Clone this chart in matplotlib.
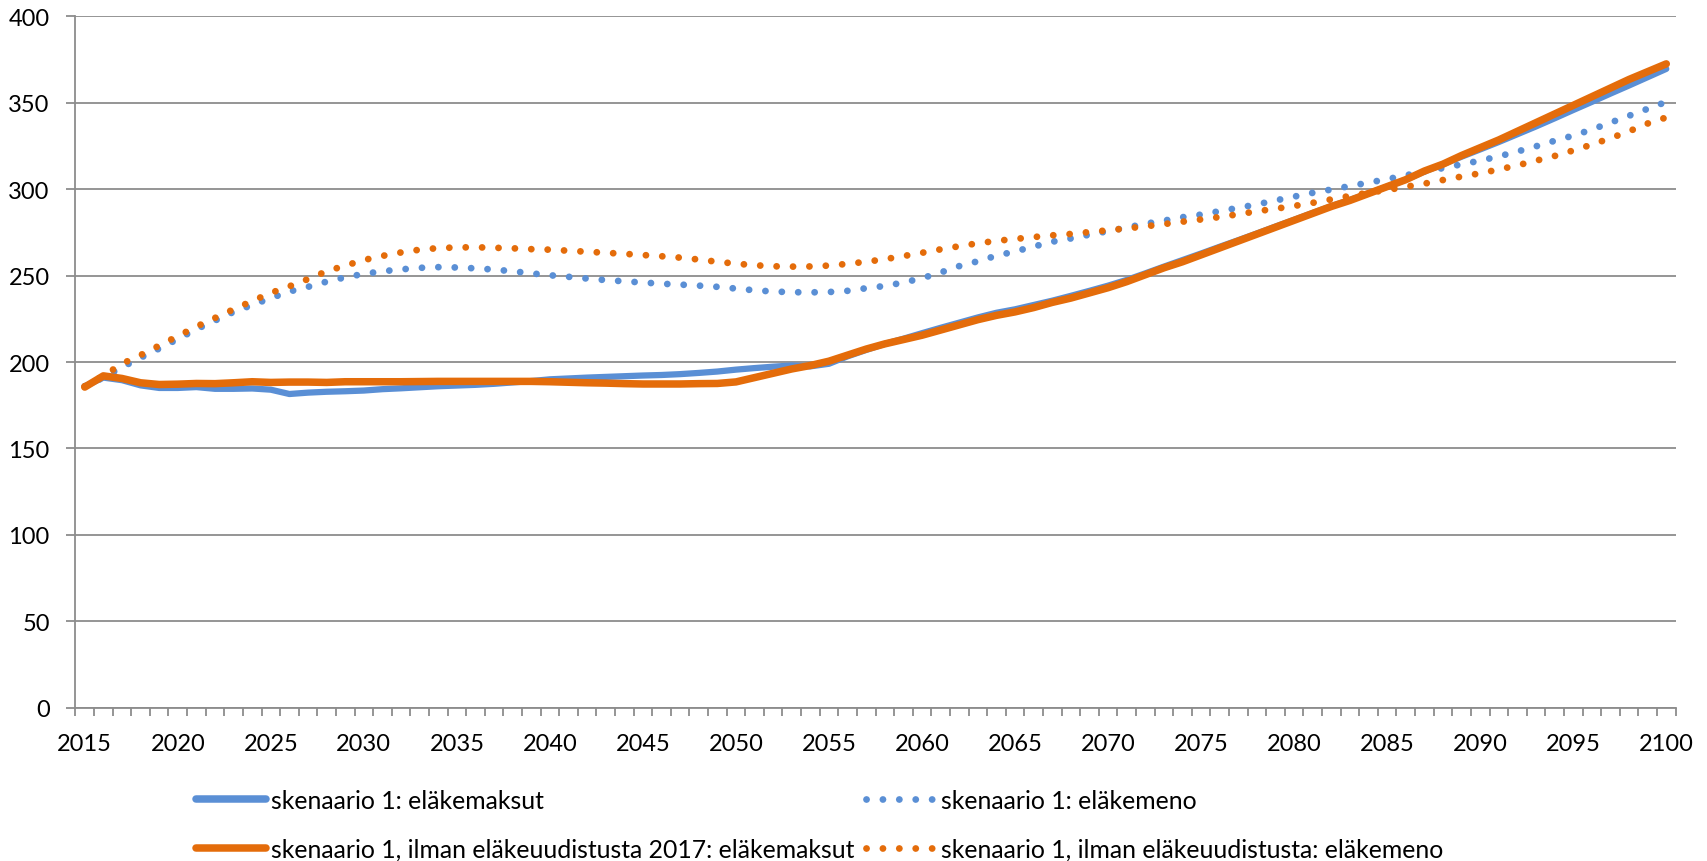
import numpy as np
import matplotlib
matplotlib.use("Agg")
import matplotlib.pyplot as plt
from matplotlib.lines import Line2D

plt.rcParams['font.family'] = ['Lato', 'DejaVu Sans']

# years 2015..2100
years = list(range(2015, 2101))

# skenaario 1: eläkemaksut
blue_maksut = [186, 191, 189.5, 186.5, 185, 185, 185.5, 184.5, 184.5, 184.7,
               184, 181.5, 182.3, 182.8, 183.1, 183.5, 184.3, 184.8, 185.4, 186,
               186.4, 186.8, 187.4, 188.2, 189, 190, 190.5, 191, 191.4, 191.8,
               192.2, 192.5, 193, 193.7, 194.5, 195.6, 196.5, 197.3, 198, 197.5,
               199, 203.3, 207, 210.5, 213.5, 216.7, 219.8, 222.8, 225.8, 228.5,
               230.5, 233, 235.5, 238.3, 241.2, 244.2, 247.5, 251.3, 255.2, 259,
               262.8, 266.7, 270.5, 274.4, 278.4, 282.3, 286.3, 290.2, 293.8, 297.6,
               301.5, 305.5, 310.2, 314.4, 318.8, 323, 327.3, 331.8, 336.3, 341,
               345.8, 350.5, 355.3, 360, 364.8, 369.6]

# skenaario 1: eläkemeno
blue_meno = [186, 191, 197, 202.5, 207.8, 213.3, 219, 224, 229, 233,
             237, 240.8, 243.5, 246.5, 249, 251, 252.5, 253.6, 254.5, 254.9,
             254.7, 254.2, 253.5, 252.5, 251.3, 250.2, 249.3, 248.3, 247.4, 246.7,
             246, 245.3, 244.8, 244.2, 243.5, 242.5, 241.5, 240.8, 240.4, 240.3,
             240.5, 241.2, 242.7, 244, 246, 248.5, 251.8, 255.5, 258.3, 261.5,
             264, 266.8, 269.6, 271.5, 273.7, 275.7, 277.8, 280, 281.8, 283.8,
             285.3, 287.3, 289.2, 291.2, 293.5, 295.7, 297.9, 299.8, 301.8, 303.8,
             305.8, 308, 310.3, 312.2, 314.4, 316.5, 319, 321.8, 324.8, 328,
             331, 334.5, 338.5, 342.5, 346.5, 350.5]

# skenaario 1, ilman eläkeuudistusta 2017: eläkemaksut
orange_maksut = [185.5, 192, 190.5, 188, 187, 187.2, 187.6, 187.5, 188, 188.6,
                 188.2, 188.4, 188.4, 188.2, 188.6, 188.6, 188.6, 188.6, 188.7, 188.8,
                 188.8, 188.8, 188.8, 188.8, 188.8, 188.6, 188.3, 188, 187.8, 187.5,
                 187.3, 187.3, 187.3, 187.5, 187.6, 188.5, 191, 193.5, 196, 198,
                 200.5, 204, 207.5, 210.5, 213, 215.5, 218.5, 221.5, 224.5, 227,
                 229, 231.5, 234.5, 237, 240, 243, 246.5, 250.5, 254.5, 258,
                 262, 266, 270, 274, 278, 282, 286, 290, 293.5, 297.5,
                 301.5, 305.5, 310.5, 314.5, 319.5, 324, 328.5, 333.5, 338.5, 343.5,
                 348.5, 353.5, 358.5, 363.5, 368, 372.5]

# skenaario 1, ilman eläkeuudistusta: eläkemeno
orange_meno = [186, 192, 199, 204, 209.5, 215, 220.5, 225.5, 230.5, 235.3,
               240, 243.8, 248, 252.5, 255.8, 259, 261.4, 263.4, 265, 265.9,
               266.3, 266.4, 266.1, 265.8, 265.3, 265, 264.4, 263.8, 263.2, 262.6,
               261.9, 261.2, 260.4, 259.3, 258, 256.9, 256, 255.4, 255.2, 255.3,
               255.8, 256.8, 258, 259.5, 261.3, 263.2, 265.2, 267, 268.7, 270.1,
               271.2, 272.3, 273.3, 274.1, 275.2, 276.2, 277.3, 278.5, 279.8, 281.2,
               282.5, 283.9, 285.5, 287.2, 288.7, 290.3, 292.1, 294.1, 296.1, 298,
               299.5, 301.4, 303.2, 305.3, 307.3, 309.2, 311.4, 313.8, 316.5, 319.2,
               322.4, 325.8, 329.5, 333.5, 338, 341.5]

labels = ['skenaario 1: eläkemaksut',
          'skenaario 1: eläkemeno',
          'skenaario 1, ilman eläkeuudistusta 2017: eläkemaksut',
          'skenaario 1, ilman eläkeuudistusta: eläkemeno']

BLUE = '#5a8fd5'
ORANGE = '#e46c0a'
GRAY = '#8c8c8c'
DOT = (0, (0.01, 2.4))

fig = plt.figure(figsize=(17.07, 8.62), dpi=100)
ax = fig.add_axes([0.0442, 0.1778, 0.9374, 0.8021])

l1, = ax.plot(years, blue_maksut, color=BLUE, lw=4.5, solid_capstyle='round', solid_joinstyle='round')
l2, = ax.plot(years, blue_meno, color=BLUE, lw=4.9, linestyle=DOT, dash_capstyle='round')
l3, = ax.plot(years, orange_maksut, color=ORANGE, lw=5.4, solid_capstyle='round', solid_joinstyle='round')
l4, = ax.plot(years, orange_meno, color=ORANGE, lw=4.9, linestyle=DOT, dash_capstyle='round')

ax.set_xlim(2014.5, 2100.5)
ax.set_ylim(0, 400)
ax.set_yticks(range(0, 401, 50))
ax.set_xticks(range(2015, 2101, 5))
ax.set_xticks(np.arange(2014.5, 2101, 1), minor=True)
ax.grid(axis='y', color=GRAY, lw=1.3)
ax.set_axisbelow(True)

for s in ['top', 'right']:
    ax.spines[s].set_visible(False)
for s in ['left', 'bottom']:
    ax.spines[s].set_color(GRAY)
    ax.spines[s].set_linewidth(1.3)

ax.tick_params(axis='x', which='major', length=0, pad=18, labelsize=17)
ax.tick_params(axis='x', which='minor', length=6, width=1.3, color=GRAY)
ax.tick_params(axis='y', length=6.5, width=1.3, color=GRAY, pad=12, labelsize=17)

# legend, two columns placed separately
leg_kw = dict(frameon=False, fontsize=17.8, handlelength=2.85, handletextpad=0.2,
              labelspacing=1.05, borderpad=0, borderaxespad=0, loc='center left')
lg1 = fig.legend([Line2D([], [], color=BLUE, lw=5.4, solid_capstyle='round'),
                  Line2D([], [], color=ORANGE, lw=5.4, solid_capstyle='round')],
                 [labels[0], labels[2]], bbox_to_anchor=(196 / 1707, 1 - 826 / 862), **leg_kw)
lg2 = fig.legend([Line2D([], [], color=BLUE, lw=4.9, linestyle=DOT, dash_capstyle='round'),
                  Line2D([], [], color=ORANGE, lw=4.9, linestyle=DOT, dash_capstyle='round')],
                 [labels[1], labels[3]], bbox_to_anchor=(866 / 1707, 1 - 826 / 862), **leg_kw)

fig.savefig('out.png', dpi=100)
